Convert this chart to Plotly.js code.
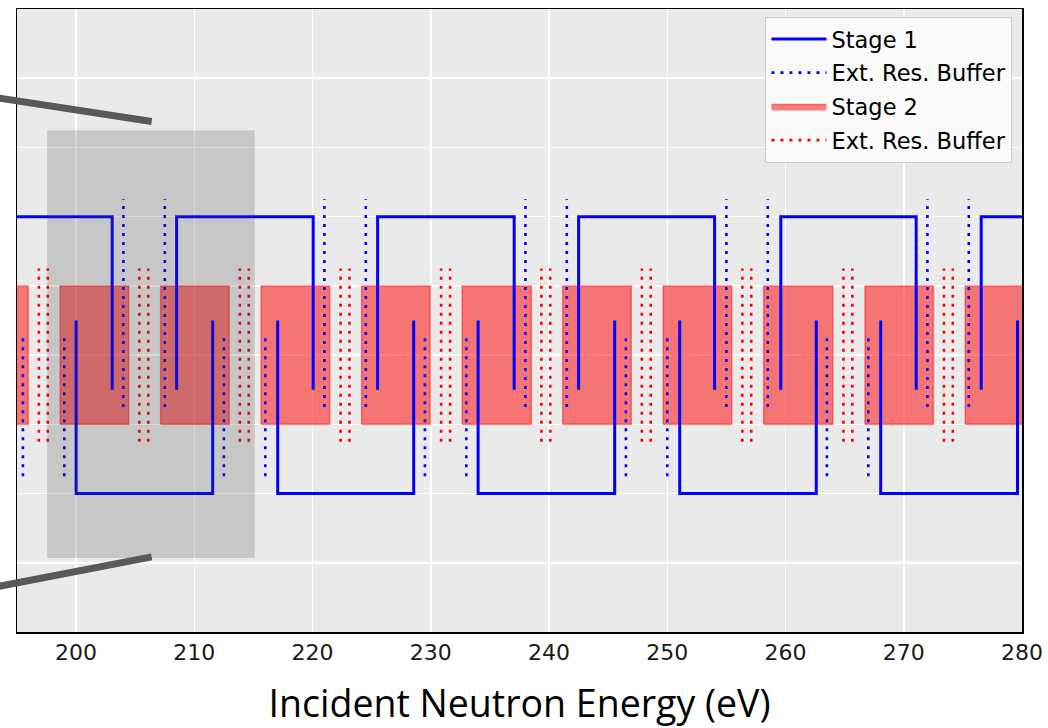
<!DOCTYPE html>
<html>
<head>
<meta charset="utf-8">
<script src="https://cdn.plot.ly/plotly-3.0.1.min.js"></script>
<style>
html,body{margin:0;padding:0;background:#ffffff;}
#chart{width:1048px;height:728px;}
</style>
</head>
<body>
<div id="chart"></div>
<script>
// ---- data (energies in eV, levels in plot units) ----
const xTickValues = [200, 210, 220, 230, 240, 250, 260, 270, 280];
const xTickLabels = ["200", "210", "220", "230", "240", "250", "260", "270", "280"];

// Stage 1 (blue solid): upper windows and lower windows
const stage1HighStarts = [191.5, 208.5, 225.5, 242.5, 259.6, 276.55];
const stage1HighEnds   = [203.05, 220.05, 237.05, 254.0, 271.05, 288.0];
const stage1LowStarts  = [200.0, 217.05, 234.0, 251.05, 268.05];
const stage1LowEnds    = [211.55, 228.55, 245.55, 262.6, 279.62];
const stage1HighLevel = [3.5, 6];   // [tail end, window level]
const stage1LowLevel  = [4.5, 2];

// Stage 1 extended resonance buffers (blue dotted)
const buffer1Upper = [204.0, 207.5, 221.0, 224.5, 238.0, 241.5, 255.0, 258.5, 272.0, 275.5];
const buffer1Lower = [195.5, 199.0, 212.5, 216.0, 229.5, 233.0, 246.5, 250.0, 263.5, 267.0];
const buffer1UpperSpan = [3.25, 6.25];
const buffer1LowerSpan = [2.25, 4.25];

// Stage 2 (red filled windows)
const stage2Starts = [190.1, 198.65, 207.15, 215.65, 224.15, 232.65, 241.15, 249.65, 258.15, 266.72, 275.2];
const stage2Ends   = [195.95, 204.45, 212.95, 221.45, 229.95, 238.5, 246.95, 255.45, 264.0, 272.5, 281.0];
const stage2Span = [3, 5];

// Stage 2 extended resonance buffers (red dotted)
const buffer2 = [196.85, 197.6, 205.35, 206.1, 213.85, 214.6, 222.37, 223.12, 230.87, 231.63,
                 239.35, 240.1, 247.85, 248.6, 256.35, 257.1, 264.9, 265.65, 273.4, 274.15];
const buffer2Span = [2.75, 5.25];

// highlighted (zoomed) region
const zoomRegionX = [197.55, 215.1];
const zoomRegionY = [1.07, 7.25];

// ---- build geometry from the data ----
function stepPieces(starts, ends, lv, xs, ys) {
  for (let i = 0; i < starts.length; i++) {
    xs.push(starts[i], starts[i], ends[i], ends[i], null);
    ys.push(lv[0], lv[1], lv[1], lv[0], null);
  }
}
function verticals(pos, span) {
  const xs = [], ys = [];
  pos.forEach(p => { xs.push(p, p, null); ys.push(span[0], span[1], null); });
  return {xs, ys};
}
function boxes(starts, ends, span) {
  const xs = [], ys = [];
  for (let i = 0; i < starts.length; i++) {
    xs.push(starts[i], ends[i], ends[i], starts[i], starts[i], null);
    ys.push(span[0], span[0], span[1], span[1], span[0], null);
  }
  return {xs, ys};
}

const s1x = [], s1y = [];
stepPieces(stage1HighStarts, stage1HighEnds, stage1HighLevel, s1x, s1y);
stepPieces(stage1LowStarts, stage1LowEnds, stage1LowLevel, s1x, s1y);

const b1u = verticals(buffer1Upper, buffer1UpperSpan);
const b1l = verticals(buffer1Lower, buffer1LowerSpan);
const b1x = b1u.xs.concat(b1l.xs), b1y = b1u.ys.concat(b1l.ys);
const s2 = boxes(stage2Starts, stage2Ends, stage2Span);
const b2 = verticals(buffer2, buffer2Span);

const traces = [
  {type: 'scatter', mode: 'lines', name: 'Stage 2', x: s2.xs, y: s2.ys,
   fill: 'toself', fillcolor: 'rgba(255,0,0,0.5)',
   line: {color: 'rgba(255,0,0,0.45)', width: 1.5}, legendrank: 3, legendgroup: 'c', connectgaps: false},
  {type: 'scatter', mode: 'lines', name: 'Ext. Res. Buffer', x: b2.xs, y: b2.ys,
   line: {color: '#ff0000', width: 2.6, dash: '3px,6px'}, legendrank: 4, legendgroup: 'd', connectgaps: false},
  {type: 'scatter', mode: 'lines', name: 'Stage 1', x: s1x, y: s1y,
   line: {color: '#0000ff', width: 3}, legendrank: 1, legendgroup: 'a', connectgaps: false},
  {type: 'scatter', mode: 'lines', name: 'Ext. Res. Buffer', x: b1x, y: b1y,
   line: {color: '#0000ff', width: 2.6, dash: '3px,6px'}, legendrank: 2, legendgroup: 'b', connectgaps: false}
];

const layout = {
  width: 1048, height: 728,
  margin: {l: 17, r: 26, t: 9, b: 96, pad: 0},
  paper_bgcolor: '#ffffff',
  plot_bgcolor: '#eaeaea',
  showlegend: true,
  hovermode: false,
  font: {family: 'DejaVu Sans', color: '#1a1a1a'},
  xaxis: {
    range: [195, 280], tickmode: 'array', tickvals: xTickValues, ticktext: xTickLabels,
    ticks: '', showgrid: true, gridcolor: '#ffffff', gridwidth: 1.5, zeroline: false,
    showline: true, linecolor: '#000000', linewidth: 1.5, mirror: true,
    tickfont: {family: 'DejaVu Sans', size: 22, color: '#1a1a1a'},
    ticklabelstandoff: 0,
    title: {text: 'Incident Neutron Energy (eV)', font: {family: 'Open Sans', size: 37.5, color: '#000000'}, standoff: 27},
    automargin: false
  },
  yaxis: {
    range: [0, 9], tickmode: 'linear', tick0: 0, dtick: 1, ticks: '',
    showticklabels: false, showgrid: true, gridcolor: '#ffffff', gridwidth: 1.5, zeroline: false,
    showline: true, linecolor: '#000000', linewidth: 1.5, mirror: true, automargin: false
  },
  legend: {
    x: 0.9905, xanchor: 'right', y: 0.9875, yanchor: 'top',
    bgcolor: 'rgba(252,252,252,0.9)', bordercolor: '#cccccc', borderwidth: 1,
    font: {family: 'DejaVu Sans', size: 22.5, color: '#000000'},
    traceorder: 'grouped', tracegroupgap: 1.5, itemwidth: 55
  },
  shapes: [
    {type: 'rect', xref: 'x', yref: 'y', x0: zoomRegionX[0], x1: zoomRegionX[1],
     y0: zoomRegionY[0], y1: zoomRegionY[1], fillcolor: 'rgba(60,60,60,0.2)',
     line: {width: 0}, layer: 'above'},
    {type: 'line', xref: 'paper', yref: 'paper', x0: -0.0175, y0: 0.857, x1: 0.134, y1: 0.8195,
     line: {color: '#595959', width: 7}, layer: 'above'},
    {type: 'line', xref: 'paper', yref: 'paper', x0: -0.0175, y0: 0.0735, x1: 0.134, y1: 0.1205,
     line: {color: '#595959', width: 7}, layer: 'above'}
  ]
};

Plotly.newPlot('chart', traces, layout, {displayModeBar: false, staticPlot: true});
</script>
</body>
</html>
